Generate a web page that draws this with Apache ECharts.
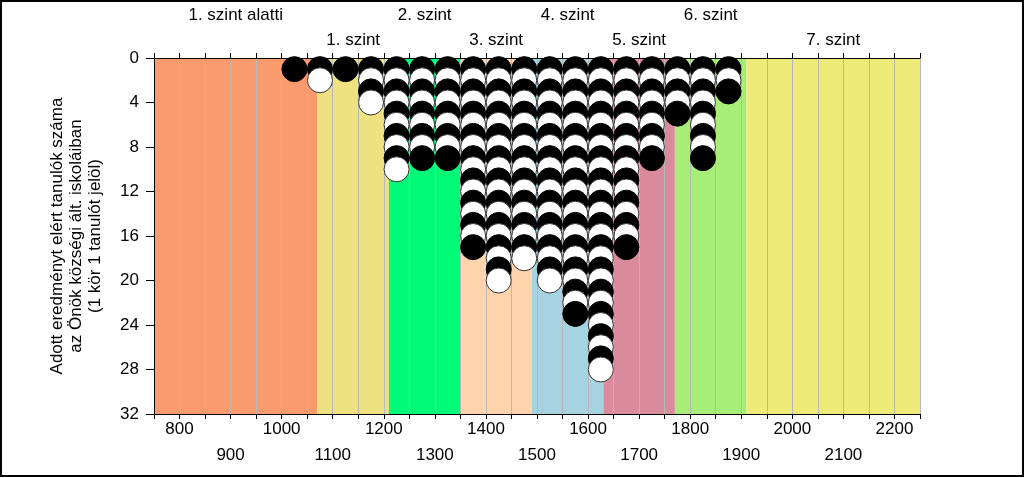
<!DOCTYPE html>
<html>
<head>
<meta charset="utf-8">
<script src="https://cdn.jsdelivr.net/npm/echarts@6/dist/echarts.min.js"></script>
<style>
html,body{margin:0;padding:0;background:#fff;}
#chart{width:1024px;height:478px;}
</style>
</head>
<body>
<div id="chart"></div>
<script>
// Column positions (score bin centres) and number of students in each
var columnX = [1025, 1075, 1125, 1175, 1225, 1275, 1325, 1375, 1425, 1475, 1525, 1575, 1625, 1675, 1725, 1775, 1825, 1875];
var columnCount = [1, 2, 1, 4, 10, 9, 9, 17, 20, 18, 20, 23, 28, 17, 9, 5, 9, 3];

// Proficiency level bands
var bandStart = [750, 1070, 1210, 1350, 1490, 1630, 1770, 1910];
var bandEnd   = [1070, 1210, 1350, 1490, 1630, 1770, 1910, 2250];
var bandNames = ['1. szint alatti', '1. szint', '2. szint', '3. szint', '4. szint', '5. szint', '6. szint', '7. szint'];

// Axis settings
var xMin = 750, xMax = 2250, xStep = 50;
var yMin = 0, yMax = 32, yStep = 4;
var yTitle = 'Adott eredményt elért tanulók száma\naz Önök községi ált. iskoláiban\n(1 kör 1 tanulót jelöl)';

var bandColors = ['#FA9B6E', '#EDE27F', '#00FA78', '#FFD4AC', '#A6D3E2', '#D98A9B', '#A7EE78', '#EEEB78'];
var FONT = 'Liberation Sans, Arial, sans-serif';

var bandData = bandStart.map(function (s, i) { return [s, bandEnd[i], i]; });

var dots = [];
columnX.forEach(function (x, c) {
  for (var i = 1; i <= columnCount[c]; i++) {
    var odd = i % 2 === 1;
    dots.push({
      value: [x, i],
      itemStyle: { color: odd ? '#000000' : '#FFFFFF', borderColor: odd ? '#000000' : '#333333', borderWidth: 1, opacity: 1 }
    });
  }
});

var chart = echarts.init(document.getElementById('chart'), null, { renderer: 'canvas' });
chart.setOption({
  animation: false,
  backgroundColor: '#FFFFFF',
  grid: { left: 154, right: 104, top: 58, bottom: 64 },
  xAxis: [{
    type: 'value', position: 'bottom', min: xMin, max: xMax, interval: xStep,
    axisLine: { show: true, onZero: false, lineStyle: { color: '#000', width: 1 } },
    axisTick: { show: true, length: 5, lineStyle: { color: '#000' } },
    axisLabel: {
      color: '#000', fontSize: 17, fontFamily: FONT, margin: 2, lineHeight: 26,
      formatter: function (v) {
        if (v % 100 !== 0) return '';
        return (v / 100) % 2 === 0 ? String(v) : '\n' + v;
      }
    },
    splitLine: { show: true, lineStyle: { color: '#B8B8B8', width: 1 } }
  }, {
    type: 'value', position: 'top', min: xMin, max: xMax, interval: xStep,
    axisLine: { show: true, onZero: false, lineStyle: { color: '#000', width: 1 } },
    axisTick: { show: true, length: 5, lineStyle: { color: '#000' } },
    axisLabel: { show: false },
    splitLine: { show: false }
  }],
  yAxis: {
    type: 'value', inverse: true, min: yMin, max: yMax, interval: yStep,
    axisLine: { show: true, onZero: false, lineStyle: { color: '#000', width: 1 } },
    axisTick: { show: true, length: 8, lineStyle: { color: '#000' } },
    axisLabel: { color: '#000', fontSize: 17, fontFamily: FONT, margin: 15 },
    splitLine: { show: false }
  },
  graphic: [{
    type: 'text', x: 76, y: 236, rotation: Math.PI / 2,
    style: { text: yTitle, align: 'center', verticalAlign: 'middle', font: '17px ' + FONT, fill: '#000', lineHeight: 19 }
  }, {
    type: 'rect', shape: { x: 1, y: 1, width: 1022, height: 475 },
    style: { fill: 'none', stroke: '#000', lineWidth: 2 }, silent: true
  }],
  series: [{
    type: 'custom',
    z: -1,
    clip: false,
    silent: true,
    data: bandData,
    renderItem: function (params, api) {
      var s = api.value(0), e = api.value(1), idx = api.value(2);
      var p0 = api.coord([s, yMin]);
      var p1 = api.coord([e, yMax]);
      var cx = (p0[0] + p1[0]) / 2;
      var rowOffset = idx % 2 === 0 ? 43 : 18;
      return {
        type: 'group',
        children: [{
          type: 'rect',
          shape: { x: p0[0], y: p0[1], width: p1[0] - p0[0], height: p1[1] - p0[1] },
          style: { fill: bandColors[idx] }
        }, {
          type: 'text',
          x: cx, y: p0[1] - rowOffset,
          style: { text: bandNames[idx], align: 'center', verticalAlign: 'middle', font: '17px ' + FONT, fill: '#000' }
        }]
      };
    }
  }, {
    type: 'scatter',
    xAxisIndex: 0,
    symbol: 'circle',
    symbolSize: 25,
    silent: true,
    z: 3,
    itemStyle: { opacity: 1 },
    data: dots
  }]
});
</script>
</body>
</html>
